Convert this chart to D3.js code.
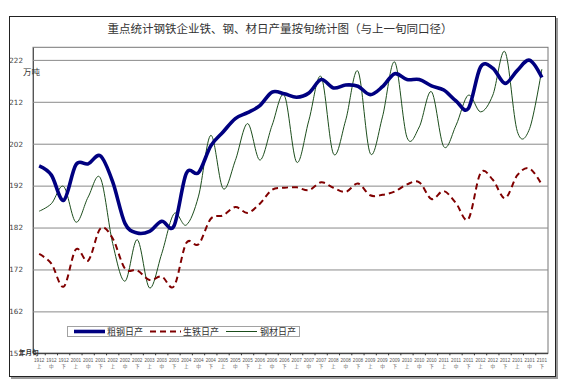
<!DOCTYPE html>
<html>
<head>
<meta charset="utf-8">
<script src="https://cdn.jsdelivr.net/npm/d3@7.9.0/dist/d3.min.js"></script>
<style>
  body { margin: 0; background: #fff; }
  svg { display: block; }
</style>
</head>
<body>
<script>
// 年月 + 旬
const months = ["1912", "2001", "2002", "2003", "2004", "2005", "2006", "2007", "2008", "2009", "2010", "2011", "2012", "2101"]
const xun = ["上", "中", "下"]
const categories = months.flatMap(m => xun.map(x => m + x))

const yTicks = [152, 162, 172, 182, 192, 202, 212, 222]

// 万吨
const crudeSteel = [196.7, 194.5, 188.5, 197.0, 197.2, 199.1, 192.9, 183.0, 180.7, 181.1, 183.5, 182.4, 194.9, 195.1,
  201.5, 204.8, 208.0, 209.4, 211.1, 214.3, 213.9, 213.1, 214.1, 217.3, 215.3, 216.0, 215.7, 213.7,
  215.6, 218.7, 217.3, 217.3, 215.8, 214.8, 212.2, 210.4, 220.3, 220.0, 216.4, 219.5, 221.9, 217.8]
const pigIron = [175.7, 173.4, 167.9, 176.8, 174.1, 181.8, 179.4, 172.2, 171.8, 169.5, 170.3, 168.0, 178.3, 178.0,
  184.1, 184.9, 186.9, 185.5, 187.7, 191.0, 191.5, 191.6, 190.9, 192.8, 191.5, 190.5, 192.5, 189.7,
  189.8, 190.6, 192.3, 192.8, 188.8, 190.7, 187.8, 184.0, 195.0, 193.4, 189.0, 194.5, 196.1, 192.2]
const steelProducts = [185.9, 187.7, 191.8, 183.3, 189.3, 193.8, 178.2, 169.2, 179.1, 167.6, 175.8, 185.3, 182.6, 189.5,
  204.0, 191.3, 198.0, 206.8, 198.1, 206.4, 213.5, 197.6, 207.6, 218.0, 199.6, 207.6, 219.3, 199.7,
  208.4, 221.5, 203.5, 206.0, 214.4, 201.3, 206.4, 213.6, 209.6, 213.6, 223.9, 204.9, 205.6, 219.8]

const width = 564, height = 387
const marginLeft = 33, marginRight = 16, marginTop = 47.3, marginBottom = 33.7
const cjk = "'Noto Sans CJK SC', sans-serif"

const svg = d3.select("body").append("svg")
    .attr("width", width)
    .attr("height", height)
    .attr("viewBox", [0, 0, width, height])

// outer frame with a little shadow
svg.append("rect")
    .attr("x", 11).attr("y", 18).attr("width", 547).attr("height", 361)
    .attr("fill", "#9a9a9a")
svg.append("rect")
    .attr("x", 9.5).attr("y", 16.5).attr("width", 546).attr("height", 360)
    .attr("fill", "#fff").attr("stroke", "#222").attr("stroke-width", 1)

svg.append("text")
    .attr("x", 280).attr("y", 33)
    .attr("text-anchor", "middle")
    .attr("font-family", cjk)
    .attr("font-size", 11.5)
    .attr("fill", "#333")
    .text("重点统计钢铁企业铁、钢、材日产量按旬统计图（与上一旬同口径）")

const x = d3.scaleBand()
    .domain(categories)
    .range([marginLeft, width - marginRight])

const y = d3.scaleLinear()
    .domain([152, 225])
    .range([height - marginBottom, marginTop])

// plot area
svg.append("rect")
    .attr("x", marginLeft).attr("y", marginTop)
    .attr("width", width - marginLeft - marginRight)
    .attr("height", height - marginTop - marginBottom)
    .attr("fill", "#fff").attr("stroke", "#777")

// y axis + grid
svg.append("g")
    .attr("transform", `translate(${marginLeft},0)`)
    .call(d3.axisLeft(y).tickValues(yTicks).tickSize(0).tickPadding(10))
    .call(g => g.select(".domain").attr("stroke", "#555"))
    .call(g => g.selectAll(".tick line").clone()
        .attr("x2", width - marginLeft - marginRight)
        .attr("stroke", "#8a8a8a"))
    .call(g => g.selectAll(".tick text")
        .attr("font-family", "'DejaVu Sans', sans-serif")
        .attr("font-size", 7.2)
        .attr("fill", "#444"))

svg.append("text")
    .attr("x", 23).attr("y", 75)
    .attr("font-family", cjk)
    .attr("font-size", 8.5)
    .attr("fill", "#333")
    .text("万吨")

// x axis
const xAxis = svg.append("g")
    .attr("transform", `translate(0,${height - marginBottom})`)
xAxis.append("line")
    .attr("x1", marginLeft).attr("x2", width - marginRight)
    .attr("stroke", "#333")
xAxis.selectAll("line.tick")
    .data(categories.slice(1))
    .join("line")
      .attr("class", "tick")
      .attr("x1", d => x(d)).attr("x2", d => x(d))
      .attr("y2", 2)
      .attr("stroke", "#333")
const xl = xAxis.selectAll("g.lab")
    .data(categories)
    .join("g")
      .attr("class", "lab")
      .attr("transform", d => `translate(${x(d) + x.bandwidth() / 2},0)`)
      .attr("font-size", 4.6)
      .attr("fill", "#555")
      .attr("text-anchor", "middle")
xl.append("text")
    .attr("y", 8.6)
    .attr("font-family", "'Liberation Sans Narrow', 'Liberation Sans', sans-serif")
    .text(d => d.slice(0, 4))
xl.append("text")
    .attr("y", 15.2)
    .attr("font-family", cjk)
    .text(d => d.slice(4))

svg.append("text")
    .attr("x", 19).attr("y", 355)
    .attr("font-family", cjk)
    .attr("font-size", 6.5)
    .attr("font-weight", "bold")
    .attr("fill", "#333")
    .text("年月旬")

const line = d3.line()
    .curve(d3.curveCardinal.tension(0))
    .x((d, i) => x(categories[i]) + x.bandwidth() / 2)
    .y(d => y(d))

const series = [
  {name: "粗钢日产", values: crudeSteel, color: "#000080", width: 3.6, dash: null},
  {name: "生铁日产", values: pigIron, color: "#800000", width: 2, dash: "6,4"},
  {name: "钢材日产", values: steelProducts, color: "#1c4d1c", width: 1, dash: null},
]

svg.append("g")
  .selectAll("path")
  .data(series.slice().reverse())
  .join("path")
    .attr("fill", "none")
    .attr("stroke", d => d.color)
    .attr("stroke-width", d => d.width)
    .attr("stroke-dasharray", d => d.dash)
    .attr("stroke-linejoin", "round")
    .attr("d", d => line(d.values))

// legend
const legend = svg.append("g")
legend.append("rect")
    .attr("x", 67.5).attr("y", 326.5).attr("width", 232).attr("height", 10)
    .attr("fill", "#fff").attr("stroke", "#444").attr("stroke-dasharray", "1,1")
const item = legend.selectAll("g")
    .data(series)
    .join("g")
      .attr("transform", (d, i) => `translate(${74 + i * 76},331.5)`)
item.append("line")
    .attr("x2", 31)
    .attr("stroke", d => d.color)
    .attr("stroke-width", d => d.width)
    .attr("stroke-dasharray", d => d.dash)
item.append("text")
    .attr("x", (d, i) => i === 2 ? 34 : 33)
    .attr("dy", "0.35em")
    .attr("font-family", cjk)
    .attr("font-size", 9)
    .attr("fill", "#333")
    .text(d => d.name)
</script>
</body>
</html>
